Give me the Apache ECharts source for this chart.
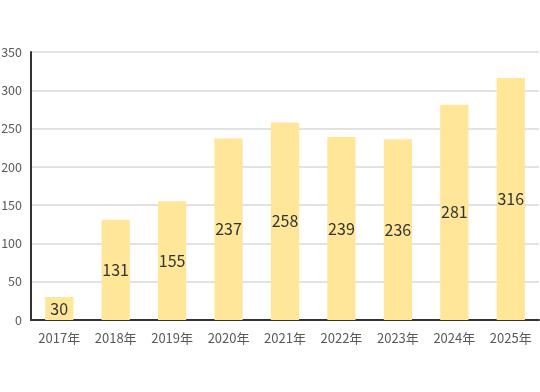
<!DOCTYPE html>
<html>
<head>
<meta charset="utf-8">
<script src="https://cdn.jsdelivr.net/npm/echarts@6/dist/echarts.min.js"></script>
<style>
  html, body { margin: 0; padding: 0; background: #fff; }
  #main { width: 540px; height: 392px; }
</style>
</head>
<body>
<div id="main"></div>
<script>
// 年份与数值
var years = ['2017年', '2018年', '2019年', '2020年', '2021年', '2022年', '2023年', '2024年', '2025年'];
var values = [30, 131, 155, 237, 258, 239, 236, 281, 316];
var yTicks = [0, 50, 100, 150, 200, 250, 300, 350];

var myChart = echarts.init(document.getElementById('main'));
myChart.setOption({
    animation: false,
    grid: { left: 31, right: 1, top: 52, bottom: 72, containLabel: false, outerBoundsMode: 'none' },
    xAxis: {
        type: 'category',
        data: years,
        axisLine: { lineStyle: { color: '#333', width: 2 } },
        axisTick: { show: false },
        axisLabel: { color: '#595959', fontSize: 13, margin: 12, fontFamily: 'Noto Sans CJK SC' }
    },
    yAxis: {
        type: 'value',
        min: yTicks[0],
        max: yTicks[yTicks.length - 1],
        interval: 50,
        axisLine: { show: true, lineStyle: { color: '#333', width: 2 } },
        axisTick: { show: false },
        splitLine: { lineStyle: { color: '#d9d9d9', width: 1.5 } },
        axisLabel: { color: '#595959', fontSize: 12.5, margin: 9, fontFamily: 'Noto Sans CJK SC' }
    },
    series: [{
        type: 'bar',
        data: values,
        barWidth: '50%',
        itemStyle: { color: '#FFE699' },
        label: {
            show: true,
            position: 'inside',
            color: '#333',
            fontSize: 16,
            fontFamily: 'Noto Sans CJK SC'
        }
    }]
});
</script>
</body>
</html>
